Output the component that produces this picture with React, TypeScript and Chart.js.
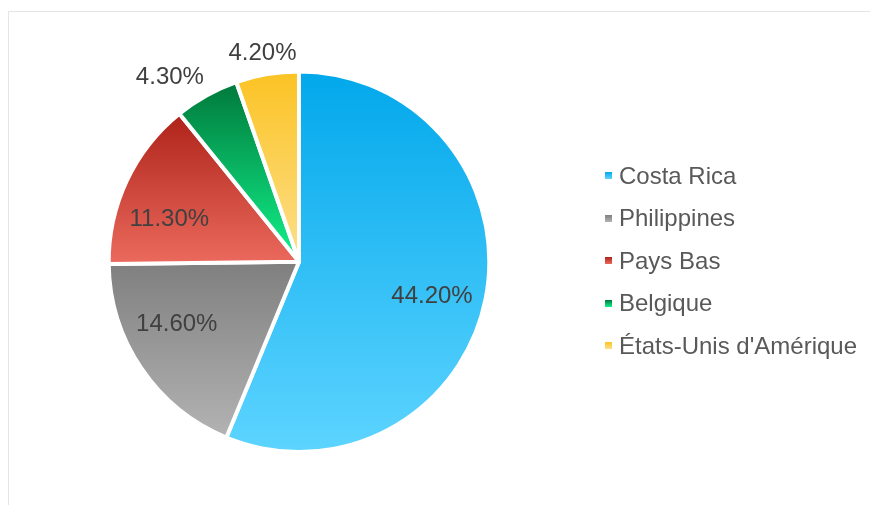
import React, { useEffect, useRef } from "react";
import { Chart, registerables } from "chart.js";

Chart.register(...registerables);

// ---- data ----
const categories = ["Costa Rica", "Philippines", "Pays Bas", "Belgique", "États-Unis d'Amérique"];
const shares = [44.2, 14.6, 11.3, 4.3, 4.2];

// ---- styles ----
const gradientTop = ["#02A8EB", "#7F7F7F", "#AE2319", "#00793B", "#FBC323"];
const gradientBottom = ["#5DD4FF", "#B3B3B3", "#EB6A5D", "#12F28B", "#FDDF8C"];
const labelOutside = [false, false, false, true, true];
const labelNudge: [number, number][] = [[0, 8], [-10, -13], [-7, 15], [-23, 6], [0, 7]];

const FONT = 'Arial, "Liberation Sans", sans-serif';
const BORDER = 4;

function sectorBox(x: number, y: number, r: number, a0: number, a1: number) {
  const pts: [number, number][] = [[x, y], [x + r * Math.cos(a0), y + r * Math.sin(a0)], [x + r * Math.cos(a1), y + r * Math.sin(a1)]];
  for (let k = -4; k <= 8; k++) {
    const a = (k * Math.PI) / 2;
    if (a > a0 && a < a1) pts.push([x + r * Math.cos(a), y + r * Math.sin(a)]);
  }
  const ys = pts.map((p) => p[1]);
  return { top: Math.min(...ys), bottom: Math.max(...ys) };
}

const framePlugin = {
  id: "frame",
  beforeDraw(chart: any) {
    const ctx = chart.ctx;
    ctx.save();
    ctx.strokeStyle = "#E4E4E4";
    ctx.lineWidth = 1;
    ctx.beginPath();
    ctx.moveTo(8.5, chart.height);
    ctx.lineTo(8.5, 11.5);
    ctx.lineTo(chart.width, 11.5);
    ctx.stroke();
    ctx.restore();
  },
};

const gradientPlugin = {
  id: "sliceGradients",
  beforeDatasetsDraw(chart: any) {
    const ctx = chart.ctx;
    const meta = chart.getDatasetMeta(0);
    meta.data.forEach((arc: any, i: number) => {
      const r = arc.outerRadius;
      const b = sectorBox(arc.x, arc.y, r, arc.startAngle, arc.endAngle);
      const g = ctx.createLinearGradient(0, b.top, 0, b.bottom);
      g.addColorStop(0, gradientTop[i]);
      g.addColorStop(1, gradientBottom[i]);
      arc.options.backgroundColor = g;
    });
  },
};

const labelPlugin = {
  id: "sliceLabels",
  afterDatasetsDraw(chart: any) {
    const ctx = chart.ctx;
    const meta = chart.getDatasetMeta(0);
    ctx.save();
    ctx.font = `24px ${FONT}`;
    ctx.fillStyle = "#404040";
    ctx.textAlign = "center";
    ctx.textBaseline = "middle";
    meta.data.forEach((arc: any, i: number) => {
      const R = arc.outerRadius - BORDER / 2;
      const mid = (arc.startAngle + arc.endAngle) / 2;
      const rr = labelOutside[i] ? R + 30 : R * 0.72;
      const x = arc.x + rr * Math.cos(mid) + labelNudge[i][0];
      const y = arc.y + rr * Math.sin(mid) + labelNudge[i][1];
      ctx.fillText(`${shares[i].toFixed(2)}%`, x, y);
    });
    ctx.restore();
  },
};

const legendPlugin = {
  id: "sideLegend",
  afterDraw(chart: any) {
    const ctx = chart.ctx;
    const meta = chart.getDatasetMeta(0);
    const cy = meta.data[0].y;
    const gap = 42.5;
    const boxX = 605;
    const box = 7;
    const n = categories.length;
    ctx.save();
    ctx.font = `24px ${FONT}`;
    ctx.textAlign = "left";
    ctx.textBaseline = "middle";
    categories.forEach((name, i) => {
      const y = cy - ((n - 1) / 2) * gap + i * gap - 1;
      const top = Math.round(y - box / 2);
      const g = ctx.createLinearGradient(0, top, 0, top + box);
      g.addColorStop(0, gradientTop[i]);
      g.addColorStop(1, gradientBottom[i]);
      ctx.fillStyle = g;
      ctx.fillRect(boxX, top, box, box);
      ctx.fillStyle = "#595959";
      ctx.fillText(name, boxX + 14, y + 1.5);
    });
    ctx.restore();
  },
};

export default function App() {
  const ref = useRef<HTMLCanvasElement | null>(null);
  useEffect(() => {
    if (!ref.current) return;
    const chart = new Chart(ref.current, {
      type: "pie",
      data: {
        labels: categories,
        datasets: [
          {
            data: shares,
            backgroundColor: gradientBottom.slice(),
            borderColor: "#FFFFFF",
            borderWidth: BORDER,
            hoverBorderWidth: BORDER,
          },
        ],
      },
      options: {
        responsive: false,
        animation: false,
        events: [],
        layout: { padding: { left: 106.7, top: 69.4, right: 378.7, bottom: 51 } },
        plugins: {
          legend: { display: false },
          tooltip: { enabled: false },
        },
      },
      plugins: [framePlugin, gradientPlugin, labelPlugin, legendPlugin],
    });
    return () => chart.destroy();
  }, []);
  return (
    <div style={{ position: "fixed", left: 0, top: 0, width: 870, height: 505, background: "#FFFFFF" }}>
      <canvas ref={ref} width={870} height={505} style={{ display: "block" }} />
    </div>
  );
}
